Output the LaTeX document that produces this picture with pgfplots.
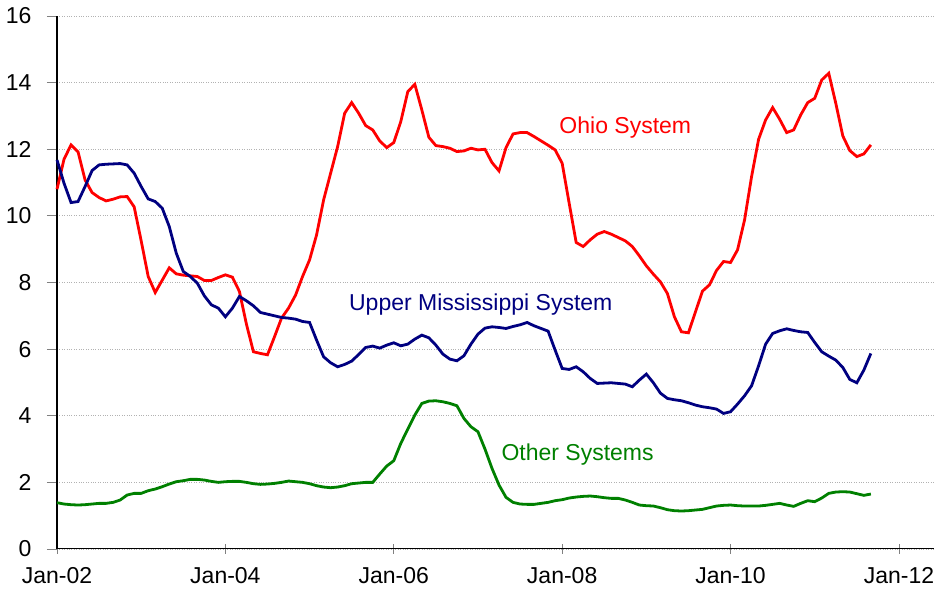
\documentclass[border=0pt]{standalone}
\usepackage{pgfplots}
\pgfplotsset{compat=1.18}
\usepackage{pgfplotstable}
\usepackage{fontspec}
\setmainfont{Liberation Sans}
\definecolor{ohio}{RGB}{255,0,0}
\definecolor{umiss}{RGB}{0,0,128}
\definecolor{other}{RGB}{0,128,0}
\pgfplotstableread{
m v
0 10.8
1 11.7
2 12.13
3 11.92
4 11.08
5 10.7
6 10.55
7 10.45
8 10.5
9 10.57
10 10.58
11 10.27
12 9.25
13 8.18
14 7.7
15 8.07
16 8.44
17 8.26
18 8.22
19 8.2
20 8.18
21 8.06
22 8.06
23 8.15
24 8.23
25 8.16
26 7.73
27 6.75
28 5.92
29 5.87
30 5.83
31 6.37
32 6.93
33 7.23
34 7.62
35 8.18
36 8.68
37 9.43
38 10.48
39 11.28
40 12.08
41 13.08
42 13.4
43 13.08
44 12.71
45 12.58
46 12.25
47 12.05
48 12.2
49 12.83
50 13.73
51 13.95
52 13.18
53 12.36
54 12.11
55 12.08
56 12.03
57 11.93
58 11.95
59 12.03
60 11.98
61 12.0
62 11.6
63 11.35
64 12.05
65 12.46
66 12.5
67 12.5
68 12.38
69 12.25
70 12.12
71 11.98
72 11.58
73 10.38
74 9.2
75 9.08
76 9.28
77 9.45
78 9.53
79 9.45
80 9.35
81 9.25
82 9.08
83 8.8
84 8.5
85 8.25
86 8.02
87 7.67
88 6.97
89 6.52
90 6.49
91 7.12
92 7.74
93 7.93
94 8.36
95 8.63
96 8.6
97 8.98
98 9.88
99 11.18
100 12.3
101 12.88
102 13.25
103 12.9
104 12.5
105 12.58
106 13.03
107 13.4
108 13.53
109 14.08
110 14.28
111 13.38
112 12.4
113 11.96
114 11.78
115 11.86
116 12.13
}\ohio
\pgfplotstableread{
m v
0 11.68
1 10.98
2 10.4
3 10.43
4 10.88
5 11.36
6 11.53
7 11.55
8 11.56
9 11.57
10 11.53
11 11.28
12 10.88
13 10.51
14 10.43
15 10.23
16 9.68
17 8.88
18 8.33
19 8.18
20 7.98
21 7.6
22 7.33
23 7.23
24 6.97
25 7.23
26 7.58
27 7.45
28 7.3
29 7.1
30 7.05
31 7.0
32 6.95
33 6.93
34 6.9
35 6.83
36 6.8
37 6.27
38 5.77
39 5.59
40 5.47
41 5.54
42 5.64
43 5.84
44 6.05
45 6.09
46 6.03
47 6.12
48 6.19
49 6.1
50 6.15
51 6.3
52 6.42
53 6.34
54 6.12
55 5.85
56 5.7
57 5.65
58 5.8
59 6.15
60 6.45
61 6.63
62 6.67
63 6.65
64 6.62
65 6.68
66 6.73
67 6.8
68 6.7
69 6.62
70 6.54
71 5.97
72 5.42
73 5.39
74 5.47
75 5.32
76 5.12
77 4.97
78 4.98
79 4.99
80 4.97
81 4.95
82 4.87
83 5.07
84 5.25
85 4.99
86 4.68
87 4.52
88 4.48
89 4.45
90 4.39
91 4.32
92 4.27
93 4.24
94 4.2
95 4.07
96 4.12
97 4.35
98 4.6
99 4.9
100 5.5
101 6.15
102 6.47
103 6.55
104 6.61
105 6.56
106 6.52
107 6.5
108 6.2
109 5.92
110 5.79
111 5.67
112 5.45
113 5.09
114 4.99
115 5.37
116 5.87
}\umiss
\pgfplotstableread{
m v
0 1.39
1 1.35
2 1.33
3 1.32
4 1.33
5 1.35
6 1.37
7 1.37
8 1.4
9 1.47
10 1.62
11 1.67
12 1.67
13 1.75
14 1.8
15 1.87
16 1.95
17 2.02
18 2.05
19 2.09
20 2.09
21 2.07
22 2.03
23 2.0
24 2.02
25 2.03
26 2.03
27 2.0
28 1.96
29 1.94
30 1.95
31 1.97
32 2.0
33 2.04
34 2.02
35 2.0
36 1.96
37 1.9
38 1.86
39 1.84
40 1.86
41 1.9
42 1.96
43 1.98
44 2.0
45 2.0
46 2.25
47 2.49
48 2.65
49 3.17
50 3.6
51 4.02
52 4.37
53 4.44
54 4.45
55 4.42
56 4.37
57 4.3
58 3.92
59 3.67
60 3.52
61 3.0
62 2.42
63 1.92
64 1.55
65 1.4
66 1.35
67 1.34
68 1.34
69 1.37
70 1.4
71 1.45
72 1.48
73 1.53
74 1.56
75 1.58
76 1.59
77 1.57
78 1.54
79 1.52
80 1.52
81 1.47
82 1.4
83 1.32
84 1.3
85 1.29
86 1.24
87 1.18
88 1.15
89 1.14
90 1.15
91 1.17
92 1.19
93 1.24
94 1.29
95 1.31
96 1.32
97 1.3
98 1.29
99 1.29
100 1.29
101 1.31
102 1.34
103 1.37
104 1.32
105 1.28
106 1.37
107 1.45
108 1.42
109 1.53
110 1.67
111 1.71
112 1.72
113 1.71
114 1.66
115 1.61
116 1.65
}\other
\begin{document}
\begin{tikzpicture}
\begin{axis}[
  scale only axis,
  width=877pt, height=533pt,
  xmin=0, xmax=125, ymin=0, ymax=16,
  axis x line*=bottom, axis y line*=left,
  axis line style={black, line width=1pt},
  xtick={0,24,48,72,96,120},
  xticklabels={Jan-02,Jan-04,Jan-06,Jan-08,Jan-10,Jan-12},
  ytick={0,2,...,16},
  ymajorgrids,
  major grid style={gray!60, dotted, line width=0.8pt},
  major tick length=10pt,
  x tick style={gray, line width=0.8pt},
  y tick style={gray, line width=0.8pt},
  xtick align=center,
  ytick align=outside,
  tick label style={font=\fontsize{23}{27}\selectfont},
  /pgf/number format/assume math mode=true,
  yticklabel style={xshift=-12pt},
  xticklabel style={yshift=-10pt},
  clip=false,
]
\addplot[ohio, line width=2.8pt] table[x=m, y=v] {\ohio};
\addplot[umiss, line width=2.8pt] table[x=m, y=v] {\umiss};
\addplot[other, line width=2.8pt] table[x=m, y=v] {\other};
\node[text=ohio, font=\fontsize{23}{27}\selectfont] at (axis cs:81,12.64) {Ohio System};
\node[text=umiss, font=\fontsize{23}{27}\selectfont] at (axis cs:60.4,7.33) {Upper Mississippi System};
\node[text=other, font=\fontsize{23}{27}\selectfont] at (axis cs:74.2,2.85) {Other Systems};
\coordinate (SW) at (rel axis cs:0,0);
\coordinate (NE) at (rel axis cs:1,1);
\end{axis}
\pgfresetboundingbox
\path ([shift={(-57pt,-47pt)}]SW) rectangle ([shift={(8pt,16pt)}]NE);
\end{tikzpicture}
\end{document}
